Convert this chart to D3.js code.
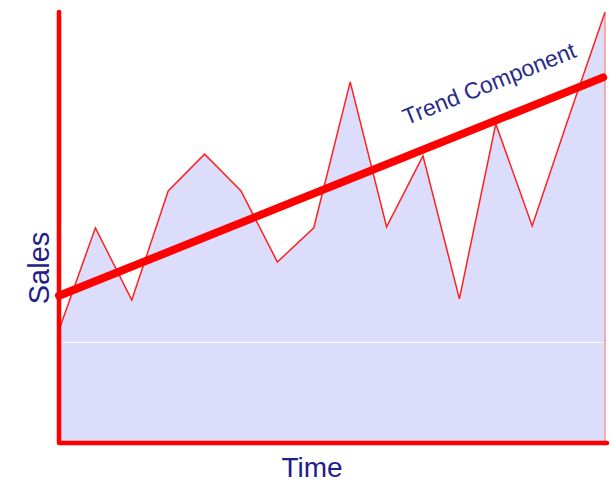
<!DOCTYPE html>
<html>
<head>
<meta charset="utf-8">
<script src="https://cdn.jsdelivr.net/npm/d3@7"></script>
<style>
html,body{margin:0;padding:0;background:#fff;}
svg{display:block;}
</style>
</head>
<body>
<svg id="chart" width="611" height="484"></svg>
<script>
// Data (index = time period, value = sales on a 0–100 scale)
const periods = d3.range(16);
const sales = [26.1, 49.7, 33.0, 58.2, 66.7, 58.2, 41.8, 49.7, 83.4, 49.9, 66.3, 33.3, 73.7, 50.1, 75.1, 99.5];
const trendStart = 34.0;
const trendEnd = 84.6;
const xLabel = "Time";
const yLabel = "Sales";
const trendLabel = "Trend Component";

const svg = d3.select("#chart");
const x = d3.scaleLinear().domain([0, 15]).range([59, 605]);
const y = d3.scaleLinear().domain([0, 100]).range([443, 10]);

const pts = periods.map((p, i) => ({t: p, v: sales[i]}));

// area fill
svg.append("path")
  .datum(pts)
  .attr("d", d3.area().x(d => x(d.t)).y0(y(0)).y1(d => y(d.v)))
  .attr("fill", "#dcdcfb");

// faint artifact line
svg.append("line")
  .attr("x1", x(0) + 2).attr("x2", x(15)).attr("y1", 342.5).attr("y2", 342.5)
  .attr("stroke", "#ffffff").attr("stroke-opacity", 0.8).attr("stroke-width", 1);

// right edge
svg.append("line")
  .attr("x1", x(15)).attr("x2", x(15)).attr("y1", y(sales[15])).attr("y2", y(0))
  .attr("stroke", "#ff9090").attr("stroke-width", 1.5);

// sales line
svg.append("path")
  .datum(pts)
  .attr("d", d3.line().x(d => x(d.t)).y(d => y(d.v)))
  .attr("fill", "none")
  .attr("stroke", "#ff2020")
  .attr("stroke-width", 1.5)
  .attr("stroke-linejoin", "miter");

// axes
svg.append("path")
  .attr("d", `M${x(0)},${y(100) + 2}L${x(0)},${y(0)}L${x(15) + 2},${y(0)}`)
  .attr("fill", "none")
  .attr("stroke", "#ff0000")
  .attr("stroke-width", 4.5)
  .attr("stroke-linecap", "round")
  .attr("stroke-linejoin", "round");

// trend line
const tx0 = 0, tx1 = 14.95;
const trendAt = t => trendStart + (trendEnd - trendStart) * t / 15;
svg.append("line")
  .attr("x1", x(tx0)).attr("y1", y(trendAt(tx0)))
  .attr("x2", x(tx1)).attr("y2", y(trendAt(tx1)))
  .attr("stroke", "#ff0000")
  .attr("stroke-width", 8)
  .attr("stroke-linecap", "round");

// trend label
const angle = Math.atan2(y(trendAt(15)) - y(trendAt(0)), x(15) - x(0)) * 180 / Math.PI;
const lt = 11.9;
svg.append("text")
  .attr("transform", `translate(${x(lt)},${y(trendAt(lt)) - 31}) rotate(${angle})`)
  .attr("text-anchor", "middle")
  .attr("font-family", "Liberation Sans, Arial, sans-serif")
  .attr("font-size", 23)
  .attr("fill", "#2a2a8c")
  .text(trendLabel);

// axis labels
svg.append("text")
  .attr("x", 312).attr("y", 477)
  .attr("text-anchor", "middle")
  .attr("font-family", "Liberation Sans, Arial, sans-serif")
  .attr("font-size", 28)
  .attr("fill", "#1e1e8c")
  .text(xLabel);

svg.append("text")
  .attr("transform", "translate(49,268) rotate(-90)")
  .attr("text-anchor", "middle")
  .attr("font-family", "Liberation Sans, Arial, sans-serif")
  .attr("font-size", 29)
  .attr("fill", "#1e1e8c")
  .text(yLabel);
</script>
</body>
</html>
